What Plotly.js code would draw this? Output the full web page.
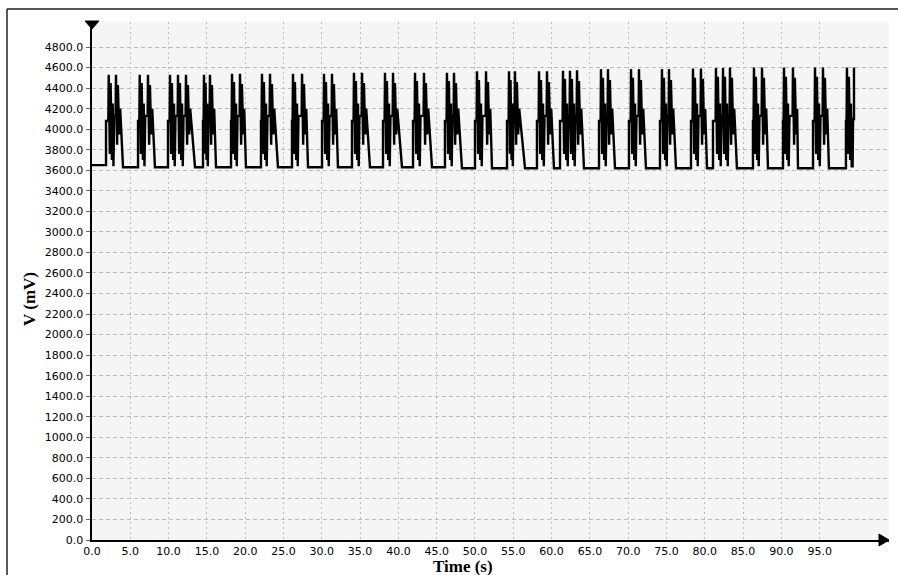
<!DOCTYPE html>
<html>
<head>
<meta charset="utf-8">
<script src="https://cdn.plot.ly/plotly-3.0.1.min.js"></script>
<style>html,body{margin:0;padding:0;background:#fff;}#chart{width:898px;height:575px;}</style>
</head>
<body>
<div id="chart"></div>
<script>
// Time (s) samples (one line per burst)
const timeS = [
  0.00,
  1.83,1.83,2.13,2.18,2.33,2.43,2.60,2.70,2.80,2.90,3.08,3.13,3.28,3.38,3.55,3.68,4.05,
  6.01,6.01,6.18,6.23,6.38,6.48,6.65,6.75,6.85,6.95,7.26,7.31,7.46,7.56,7.73,7.86,8.22,
  9.92,9.92,10.13,10.18,10.33,10.43,10.60,10.70,10.80,10.90,11.18,11.23,11.38,11.48,11.65,11.75,11.85,11.95,12.22,12.27,12.42,12.52,12.69,12.82,13.45,
  14.49,14.49,14.57,14.62,14.74,14.82,14.96,15.04,15.12,15.20,15.35,15.40,15.55,15.65,15.82,15.95,16.19,
  18.15,18.15,18.23,18.28,18.43,18.53,18.70,18.80,18.90,19.00,19.27,19.32,19.47,19.57,19.74,19.87,20.10,
  22.06,22.06,22.14,22.19,22.34,22.44,22.61,22.71,22.81,22.91,23.19,23.24,23.39,23.49,23.66,23.79,24.28,
  26.11,26.11,26.19,26.24,26.39,26.49,26.66,26.76,26.86,26.96,27.37,27.42,27.57,27.67,27.84,27.97,28.20,
  30.03,30.03,30.24,30.29,30.44,30.54,30.71,30.81,30.91,31.01,31.28,31.33,31.48,31.58,31.75,31.88,32.11,
  33.94,33.94,34.15,34.20,34.35,34.45,34.62,34.72,34.82,34.92,35.20,35.25,35.40,35.50,35.67,35.80,36.29,
  37.99,37.99,38.20,38.25,38.40,38.50,38.67,38.77,38.87,38.97,39.25,39.30,39.45,39.55,39.72,39.85,40.47,
  41.91,41.91,42.12,42.17,42.32,42.42,42.59,42.69,42.79,42.89,43.29,43.34,43.49,43.59,43.76,43.89,44.39,
  46.08,46.08,46.29,46.34,46.49,46.59,46.76,46.86,46.96,47.06,47.21,47.26,47.41,47.51,47.68,47.81,48.30,
  50.00,50.00,50.21,50.26,50.41,50.51,50.68,50.78,50.88,50.98,51.39,51.44,51.59,51.69,51.86,51.99,52.22,
  54.18,54.18,54.39,54.44,54.56,54.64,54.78,54.86,54.94,55.02,55.17,55.22,55.37,55.47,55.64,55.77,56.53,
  58.09,58.09,58.31,58.36,58.51,58.61,58.78,58.88,58.98,59.08,59.35,59.40,59.55,59.65,59.82,59.95,60.31,
  61.10,61.10,61.44,61.49,61.64,61.74,61.91,62.01,62.11,62.21,62.35,62.40,62.55,62.65,62.82,62.92,63.02,63.12,63.27,63.32,63.47,63.57,63.74,63.87,64.23,
  66.19,66.19,66.40,66.45,66.60,66.70,66.87,66.97,67.07,67.17,67.31,67.36,67.51,67.61,67.78,67.91,68.28,
  70.10,70.10,70.32,70.37,70.52,70.62,70.79,70.89,70.99,71.09,71.36,71.41,71.56,71.66,71.83,71.96,72.32,
  74.15,74.15,74.36,74.41,74.56,74.66,74.83,74.93,75.03,75.13,75.28,75.33,75.48,75.58,75.75,75.88,76.24,
  78.20,78.20,78.41,78.46,78.61,78.71,78.88,78.98,79.08,79.18,79.45,79.50,79.65,79.75,79.92,80.05,80.29,
  81.07,81.07,81.41,81.46,81.61,81.71,81.88,81.98,82.08,82.18,82.33,82.38,82.53,82.63,82.80,82.90,83.00,83.10,83.24,83.29,83.44,83.54,83.71,83.84,84.20,
  86.29,86.29,86.37,86.42,86.57,86.67,86.84,86.94,87.04,87.14,87.42,87.47,87.62,87.72,87.89,88.02,88.25,
  90.21,90.21,90.29,90.34,90.49,90.59,90.76,90.86,90.96,91.06,91.46,91.51,91.66,91.76,91.93,92.06,92.17,
  94.13,94.13,94.34,94.39,94.54,94.64,94.81,94.91,95.01,95.11,95.38,95.43,95.58,95.68,95.85,95.98,96.21,
  98.43,98.43,98.51,98.56,98.71,98.81,98.98,99.08,99.18,99.30,99.36,99.48,99.48
];
// Voltage (mV) samples (one line per burst)
const voltageMV = [
  3650,
  3650,4080,4080,4530,3760,4450,3700,4250,3640,4130,4130,4530,3850,4430,3950,4200,3630,
  3630,4080,4080,4530,3760,4450,3700,4250,3640,4130,4130,4530,3850,4430,3950,4200,3630,
  3630,4080,4080,4530,3760,4450,3700,4250,3640,4130,4130,4530,3760,4450,3700,4250,3640,4130,4130,4530,3850,4430,3950,4200,3630,
  3630,4080,4080,4530,3760,4450,3700,4250,3640,4130,4130,4530,3850,4430,3950,4200,3630,
  3630,4080,4080,4540,3760,4460,3700,4250,3640,4130,4130,4540,3850,4440,3950,4200,3630,
  3630,4080,4080,4540,3760,4460,3700,4250,3640,4130,4130,4540,3850,4440,3950,4200,3630,
  3630,4080,4080,4540,3760,4460,3700,4250,3640,4130,4130,4540,3850,4440,3950,4200,3630,
  3630,4080,4080,4540,3760,4460,3700,4250,3640,4130,4130,4540,3850,4440,3950,4200,3630,
  3630,4080,4080,4550,3760,4470,3700,4250,3640,4130,4130,4550,3850,4450,3950,4200,3630,
  3630,4080,4080,4550,3760,4470,3700,4250,3640,4130,4130,4550,3850,4450,3950,4200,3630,
  3630,4080,4080,4550,3760,4470,3700,4250,3640,4130,4130,4550,3850,4450,3950,4200,3630,
  3630,4080,4080,4550,3760,4470,3700,4250,3640,4130,4130,4550,3850,4450,3950,4200,3620,
  3620,4080,4080,4565,3760,4480,3700,4250,3640,4130,4130,4565,3850,4460,3950,4200,3620,
  3620,4080,4080,4565,3760,4480,3700,4250,3640,4130,4130,4565,3850,4460,3950,4200,3620,
  3620,4080,4080,4565,3760,4480,3700,4250,3640,4130,4130,4565,3850,4460,3950,4200,3620,
  3620,4080,4080,4570,3760,4490,3700,4250,3640,4130,4130,4570,3760,4490,3700,4250,3640,4130,4130,4575,3850,4470,3950,4200,3620,
  3620,4080,4080,4585,3760,4500,3700,4250,3640,4130,4130,4585,3850,4480,3950,4200,3620,
  3620,4080,4080,4585,3760,4500,3700,4250,3640,4130,4130,4585,3850,4480,3950,4200,3620,
  3620,4080,4080,4585,3760,4500,3700,4250,3640,4130,4130,4585,3850,4480,3950,4200,3620,
  3620,4080,4080,4590,3760,4500,3700,4250,3640,4130,4130,4590,3850,4490,3950,4200,3620,
  3620,4080,4080,4595,3760,4510,3700,4250,3640,4130,4130,4595,3760,4510,3700,4250,3640,4130,4130,4600,3850,4500,3950,4200,3620,
  3620,4080,4080,4600,3760,4510,3700,4250,3640,4130,4130,4600,3850,4500,3950,4200,3620,
  3620,4080,4080,4600,3760,4510,3700,4250,3640,4130,4130,4600,3850,4500,3950,4200,3620,
  3620,4080,4080,4600,3760,4510,3700,4250,3640,4130,4130,4600,3850,4500,3950,4200,3620,
  3620,4080,4080,4600,3760,4510,3700,4250,3640,3640,4100,4100,4600
];

const xTickVals = [0,5,10,15,20,25,30,35,40,45,50,55,60,65,70,75,80,85,90,95];
const xTickText = ["0.0","5.0","10.0","15.0","20.0","25.0","30.0","35.0","40.0","45.0","50.0","55.0","60.0","65.0","70.0","75.0","80.0","85.0","90.0","95.0"];
const yTickVals = [0,200,400,600,800,1000,1200,1400,1600,1800,2000,2200,2400,2600,2800,3000,3200,3400,3600,3800,4000,4200,4400,4600,4800];
const yTickText = ["0.0","200.0","400.0","600.0","800.0","1000.0","1200.0","1400.0","1600.0","1800.0","2000.0","2200.0","2400.0","2600.0","2800.0","3000.0","3200.0","3400.0","3600.0","3800.0","4000.0","4200.0","4400.0","4600.0","4800.0"];
const xTitle = "Time (s)";
const yTitle = "V (mV)";

const trace = {
  x: timeS, y: voltageMV, type: 'scatter', mode: 'lines',
  line: {color: '#000', width: 2.4}, hoverinfo: 'skip', showlegend: false
};

const tickFont = {family: 'DejaVu Sans, Verdana, sans-serif', size: 11, color: '#000'};
const titleFont = {family: 'Liberation Serif, Times New Roman, serif', size: 17, color: '#000'};

const layout = {
  width: 898, height: 575,
  margin: {l: 92, r: 9, t: 22, b: 35, pad: 0},
  paper_bgcolor: '#ffffff', plot_bgcolor: '#f5f5f5',
  showlegend: false,
  xaxis: {
    range: [0, 104.05], tickmode: 'array', tickvals: xTickVals, ticktext: xTickText,
    showgrid: true, gridcolor: '#bdbdbd', gridwidth: 1, griddash: '2px,3px',
    showline: true, linecolor: '#000', linewidth: 2, zeroline: false,
    ticks: '', tickfont: tickFont, fixedrange: true
  },
  yaxis: {
    range: [0, 5044], tickmode: 'array', tickvals: yTickVals, ticktext: yTickText,
    showgrid: true, gridcolor: '#bdbdbd', gridwidth: 1, griddash: '4px,3px',
    showline: true, linecolor: '#000', linewidth: 2.5, zeroline: false,
    ticks: 'outside', ticklen: 4, tickcolor: '#666', tickwidth: 1,
    tickfont: tickFont, fixedrange: true
  },
  annotations: [
    {text: '<b>' + xTitle + '</b>', xref: 'paper', yref: 'paper', x: 0.4655, y: -0.0502,
     xanchor: 'center', yanchor: 'middle', showarrow: false, font: titleFont},
    {text: '<b>' + yTitle + '</b>', xref: 'paper', yref: 'paper', x: -0.0778, y: 0.4653,
     xanchor: 'center', yanchor: 'middle', textangle: -90, showarrow: false, font: titleFont}
  ],
  shapes: [
    {type: 'line', xref: 'paper', yref: 'paper', x0: -0.10665, x1: 1.0113, y0: 1.0251, y1: 1.0251,
     line: {color: '#222', width: 1.5}},
    {type: 'line', xref: 'paper', yref: 'paper', x0: -0.10665, x1: -0.10665, y0: 1.0251, y1: -0.08,
     line: {color: '#222', width: 1.5}},
    {type: 'path', xref: 'paper', yref: 'paper',
     path: 'M -0.00878 1.00193 L 0.00878 1.00193 L 0 0.98649 Z',
     fillcolor: '#000', line: {color: '#000', width: 1}},
    {type: 'path', xref: 'paper', yref: 'paper',
     path: 'M 0.98745 0.011583 L 1.0 0 L 0.98745 -0.011583 Z',
     fillcolor: '#000', line: {color: '#000', width: 1}}
  ]
};

Plotly.newPlot('chart', [trace], layout, {staticPlot: true, displayModeBar: false});
</script>
</body>
</html>
